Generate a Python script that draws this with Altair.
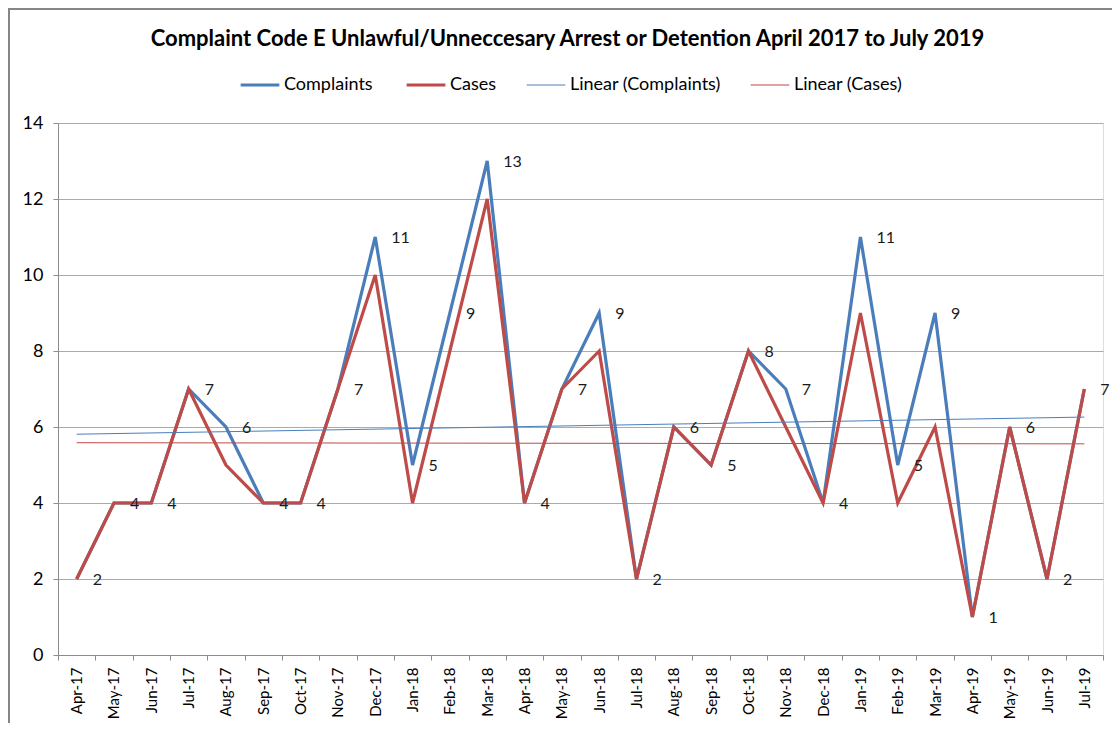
import altair as alt
import pandas as pd

months = ["Apr-17", "May-17", "Jun-17", "Jul-17", "Aug-17", "Sep-17", "Oct-17", "Nov-17",
          "Dec-17", "Jan-18", "Feb-18", "Mar-18", "Apr-18", "May-18", "Jun-18", "Jul-18",
          "Aug-18", "Sep-18", "Oct-18", "Nov-18", "Dec-18", "Jan-19", "Feb-19", "Mar-19",
          "Apr-19", "May-19", "Jun-19", "Jul-19"]
complaints = [2, 4, 4, 7, 6, 4, 4, 7, 11, 5, 9, 13, 4, 7, 9, 2, 6, 5, 8, 7, 4, 11, 5, 9, 1, 6, 2, 7]
cases = [2, 4, 4, 7, 5, 4, 4, 7, 10, 4, 8, 12, 4, 7, 8, 2, 6, 5, 8, 6, 4, 9, 4, 6, 1, 6, 2, 7]

series_names = ["Complaints", "Cases", "Linear (Complaints)", "Linear (Cases)"]
series_colors = ["#4A7EBB", "#BE4B48", "#4A7EBB", "#BE4B48"]
title_text = ["Complaint  Code E Unlawful/Unneccesary Arrest or Detention April 2017 to July 2019"]

FONT = "Lato"
W, H = 1045, 532

wide = pd.DataFrame({"idx": list(range(len(months))), "month": months,
                     "Complaints": complaints, "Cases": cases})
long = wide.melt(id_vars=["idx", "month"], value_vars=["Complaints", "Cases"],
                 var_name="series", value_name="value")

x_enc = alt.X("month:O", sort=months, title=None,
              scale=alt.Scale(paddingInner=0, paddingOuter=0),
              axis=alt.Axis(labelAngle=-90, tickBand="extent", grid=False,
                            domainColor="#8C8C8C", tickColor="#8C8C8C", tickSize=5,
                            labelFont=FONT, labelFontSize=15, labelColor="#000000",
                            labelPadding=7, labelBaseline="middle", labelAlign="right"))
y_enc = alt.Y("value:Q", title=None,
              scale=alt.Scale(domain=[0, 14], nice=False),
              axis=alt.Axis(values=list(range(0, 15, 2)), grid=True, gridColor="#ABABAB",
                            domainColor="#8C8C8C", tickColor="#8C8C8C", tickSize=5,
                            labelFont=FONT, labelFontSize=18, labelColor="#000000",
                            labelPadding=10))

color_enc = alt.Color("series:N", title=None,
                      scale=alt.Scale(domain=series_names, range=series_colors),
                      legend=alt.Legend(orient="none", legendX=193, legendY=-47,
                                        direction="horizontal", symbolType="stroke", symbolSize=1500,
                                        symbolStrokeWidth=alt.ExprRef(
                                            "indexof(['Complaints','Cases'], datum.value) >= 0 ? 3.2 : 1"),
                                        labelFont=FONT, labelFontSize=18, labelColor="#000000",
                                        columnPadding=27, labelOffset=15))

lines = alt.Chart(long).mark_line(strokeWidth=3.2).encode(
    x=x_enc, y=y_enc, color=color_enc,
    order=alt.Order("idx:Q"),
    detail="series:N",
)

trend_c = alt.Chart(wide).transform_regression("idx", "Complaints").transform_lookup(
    lookup="idx", from_=alt.LookupData(data=wide, key="idx", fields=["month"])
).transform_calculate(series="'Linear (Complaints)'", value="datum.Complaints").mark_line(
    strokeWidth=1).encode(x=alt.X("month:O", sort=months), y="value:Q", color="series:N")

trend_k = alt.Chart(wide).transform_regression("idx", "Cases").transform_lookup(
    lookup="idx", from_=alt.LookupData(data=wide, key="idx", fields=["month"])
).transform_calculate(series="'Linear (Cases)'", value="datum.Cases").mark_line(
    strokeWidth=1).encode(x=alt.X("month:O", sort=months), y="value:Q", color="series:N")

labels = alt.Chart(wide).mark_text(align="left", baseline="middle", dx=16, dy=1,
                                   font=FONT, fontSize=16, color="#1A1A1A").encode(
    x=alt.X("month:O", sort=months), y=alt.Y("Complaints:Q"), text="Complaints:Q")

title = alt.Chart(pd.DataFrame({"t": title_text})).mark_text(
    font=FONT, fontSize=22, fontWeight="bold", color="#000000",
    align="center", baseline="middle").encode(
    x=alt.value(W / 2 - 13), y=alt.value(-84), text="t:N")

frame_top = alt.Chart(wide).mark_rule(stroke="#868686", strokeWidth=2).encode(
    x=alt.value(-50), x2=alt.value(W + 9), y=alt.value(-114), y2=alt.value(-114))
frame_left = alt.Chart(wide).mark_rule(stroke="#868686", strokeWidth=2).encode(
    x=alt.value(-49), x2=alt.value(-49), y=alt.value(-115), y2=alt.value(H + 68))

chart = alt.layer(lines, trend_c, trend_k, labels, title, frame_top, frame_left).properties(
    width=W, height=H,
    autosize=alt.AutoSizeParams(type="none"),
    padding={"left": 50, "top": 115, "right": 9, "bottom": 68},
).configure_view(stroke=None).configure(background="white")

chart.save("out.html", embed_options={"renderer": "svg", "actions": False})
